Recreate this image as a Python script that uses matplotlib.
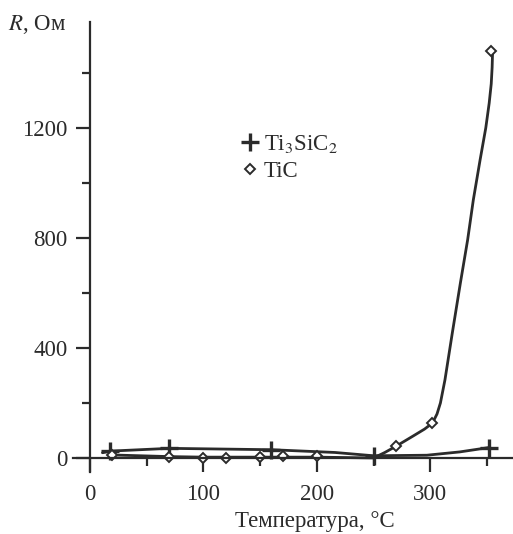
import matplotlib
matplotlib.use("Agg")
import matplotlib.pyplot as plt
from matplotlib.ticker import MultipleLocator

plt.rcParams['font.family'] = ['Liberation Serif', 'DejaVu Serif']
plt.rcParams['mathtext.fontset'] = 'stix'

ink = "#2b2b2b"

ti3sic2_t = [18, 70, 160, 250, 352]
ti3sic2_r = [27, 35, 30, 8, 38]
ti3sic2_curve_t = [11, 18, 70, 160, 216, 250, 297, 326, 352]
ti3sic2_curve_r = [19, 25, 35, 30, 20, 8, 10, 22, 38]

# TiC: measured points and the drawn smooth curve
tic_t = [19, 70, 100, 120, 150, 170, 200, 270, 302, 354]
tic_r = [11, 5, 0, 0, 5, 6, 8, 44, 127, 1480]
tic_curve_t = [19, 70, 100, 150, 200, 250, 260, 270, 285, 295, 302, 306, 309,
               313, 319.5, 326.6, 333, 338, 344, 349, 352, 353.8, 354.6, 355]
tic_curve_r = [11, 5, 3, 3, 3, 0, 20, 43, 80, 105, 127, 160, 200,
               284, 455, 636, 793, 938, 1084, 1200, 1290, 1360, 1420, 1477]

fig = plt.figure(figsize=(5.13, 5.34), dpi=100)
ax = fig.add_axes([73 / 513, 62 / 534, 440 / 513, 450 / 534])

ax.plot(ti3sic2_curve_t, ti3sic2_curve_r, color=ink, lw=2.0, solid_capstyle='round')
ax.plot(tic_curve_t, tic_curve_r, color=ink, lw=2.0, solid_capstyle='round',
        solid_joinstyle='round')
ax.plot(ti3sic2_t, ti3sic2_r, ls='none', marker='+', ms=13, mew=2.4, color=ink,
        label='Ti$_3$SiC$_2$')
ax.plot(tic_t, tic_r, ls='none', marker='D', ms=5.5, mew=1.4, mfc='white', mec=ink,
        label='TiC')

ax.set_xlim(-15, 373)
ax.set_ylim(-51, 1585)

for side in ['top', 'right']:
    ax.spines[side].set_visible(False)
ax.spines['left'].set_position(('data', 0))
ax.spines['bottom'].set_position(('data', 0))
for side in ['left', 'bottom']:
    ax.spines[side].set_color(ink)
    ax.spines[side].set_linewidth(1.6)

ax.xaxis.set_major_locator(MultipleLocator(100))
ax.xaxis.set_minor_locator(MultipleLocator(50))
ax.yaxis.set_major_locator(MultipleLocator(400))
ax.yaxis.set_minor_locator(MultipleLocator(200))
ax.tick_params(which='both', direction='out', color=ink, width=1.6,
               labelsize=16.5, labelcolor=ink)
ax.tick_params(which='major', length=10)
ax.tick_params(which='minor', length=6)
ax.tick_params(axis='x', pad=9)
ax.tick_params(axis='y', pad=6)
ax.set_xticks([0, 100, 200, 300])
ax.set_yticks([0, 400, 800, 1200])

fig.text(8 / 513, 1 - 25 / 534, '$R$, Ом', fontsize=16.5, color=ink, va='center', ha='left')
fig.text(315 / 513, 1 - 521 / 534, 'Температура, °C', fontsize=16.5, color=ink,
         va='center', ha='center')

ax.legend(loc='upper left', bbox_to_anchor=(243 / 513, 1 - 133 / 534),
          bbox_transform=fig.transFigure, frameon=False, fontsize=16.5,
          handlelength=0.6, handletextpad=0.3, borderpad=0, borderaxespad=0,
          labelspacing=0.25, labelcolor=ink)

fig.savefig("out.png", dpi=100)
